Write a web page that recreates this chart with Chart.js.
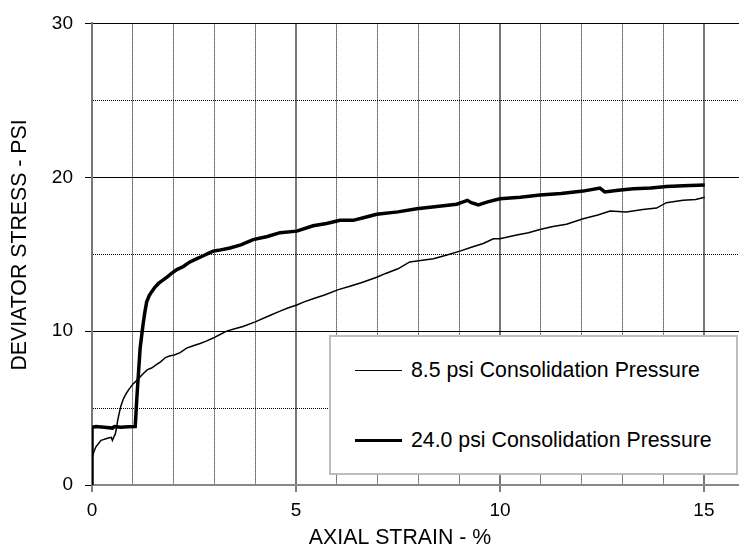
<!DOCTYPE html>
<html lang="en">
<head>
  <meta charset="UTF-8">
  <meta name="viewport" content="width=device-width, initial-scale=1.0">
  <title>Deviator stress vs axial strain</title>
  <script src="https://cdn.jsdelivr.net/npm/chart.js"></script>
  <style>
    body {
      margin: 0;
      background: #fff;
      overflow: hidden;
    }
    #wrap {
      position: relative;
      width: 739px;
      height: 548px;
    }
    #legend {
      position: absolute;
      left: 329px;
      top: 335px;
      width: 405px;
      height: 136px;
      border: 2px solid #bdbdbd;
      background: #fff;
      font-family: 'Liberation Sans', Arial, sans-serif;
      font-size: 21.3px;
      color: #000;
    }
    .row {
      position: absolute;
      left: 24px;
      height: 26px;
      display: flex;
      align-items: center;
      white-space: nowrap;
    }
    .swatch {
      width: 47px;
      margin-right: 9px;
      border-top-style: solid;
      border-top-color: #000;
    }
  </style>
</head>
<body>
  <div id="wrap">
    <canvas id="stressChart" width="739" height="548"></canvas>
    <!-- legend box, filled from the dataset labels -->
    <div id="legend"></div>
  </div>

<script>
  // 8.5 psi test
  const strainLow = [0, 0, 0.05, 0.1, 0.16, 0.22, 0.28, 0.34, 0.4, 0.47, 0.5, 0.53, 0.57, 0.6, 0.63, 0.67,
    0.71, 0.77, 0.83, 0.9, 1.0, 1.08, 1.16, 1.26, 1.36, 1.46, 1.57, 1.68, 1.81, 1.92, 2.02, 2.16, 2.32,
    2.48, 2.65, 2.8, 2.97, 3.15, 3.3, 3.5, 3.7, 4.0, 4.3, 4.61, 4.8, 5.02, 5.2, 5.42, 5.7, 6.04, 6.3, 6.6,
    6.98, 7.2, 7.5, 7.79, 8.1, 8.37, 8.7, 9.02, 9.3, 9.59, 9.84, 10.0, 10.41, 10.7, 10.98, 11.3, 11.63,
    12.04, 12.4, 12.7, 13.1, 13.5, 13.84, 14.08, 14.49, 14.8, 15.02];
  const stressLow = [0, 1.8, 2.2, 2.5, 2.7, 2.9, 2.95, 3.0, 3.05, 3.1, 2.9, 3.1, 3.3, 3.7, 4.2, 4.7,
    5.15, 5.6, 5.9, 6.2, 6.55, 6.75, 6.97, 7.25, 7.5, 7.6, 7.8, 8.0, 8.3, 8.4, 8.45, 8.6, 8.9,
    9.05, 9.2, 9.35, 9.55, 9.8, 10.0, 10.15, 10.3, 10.6, 10.95, 11.3, 11.5, 11.7, 11.9, 12.1, 12.35, 12.7, 12.9, 13.15,
    13.5, 13.75, 14.05, 14.5, 14.6, 14.7, 14.95, 15.2, 15.45, 15.7, 16.0, 16.0, 16.25, 16.4, 16.6, 16.8, 16.95,
    17.3, 17.55, 17.8, 17.75, 17.9, 18.0, 18.35, 18.5, 18.55, 18.7];

  // 24.0 psi test
  const strainHigh = [0, 0, 0.1, 0.3, 0.5, 0.55, 0.7, 0.9, 1.06, 1.1, 1.14, 1.18, 1.22, 1.26, 1.3, 1.34,
    1.4, 1.46, 1.54, 1.63, 1.73, 1.83, 1.95, 2.08, 2.24, 2.4, 2.56, 2.73, 2.85, 2.97, 3.1, 3.38, 3.65,
    3.95, 4.3, 4.61, 5.02, 5.42, 5.75, 6.08, 6.4, 6.7, 6.98, 7.5, 7.96, 8.45, 8.94, 9.1, 9.2, 9.3, 9.47,
    9.7, 10.0, 10.5, 10.98, 11.5, 12.04, 12.45, 12.57, 12.9, 13.27, 13.7, 14.08, 14.5, 15.02];
  const stressHigh = [0, 3.75, 3.8, 3.75, 3.7, 3.8, 3.75, 3.78, 3.8, 5.7, 7.3, 8.9, 9.77, 10.6, 11.3, 11.9,
    12.3, 12.55, 12.85, 13.1, 13.3, 13.5, 13.75, 14.0, 14.2, 14.5, 14.7, 14.9, 15.05, 15.2, 15.25, 15.4, 15.6,
    15.95, 16.15, 16.4, 16.5, 16.85, 17.0, 17.2, 17.2, 17.4, 17.6, 17.75, 17.95, 18.1, 18.25, 18.4, 18.5, 18.35, 18.2,
    18.4, 18.6, 18.7, 18.85, 18.95, 19.1, 19.3, 19.05, 19.15, 19.25, 19.3, 19.4, 19.45, 19.5];

  const seriesNames = ['8.5 psi Consolidation Pressure', '24.0 psi Consolidation Pressure'];
  const seriesWidths = [1.5, 3.5];
  const xTickLabels = [0, 5, 10, 15];
  const yTickLabels = [0, 10, 20, 30];
  const xTitle = 'AXIAL STRAIN - %';
  const yTitle = 'DEVIATOR STRESS - PSI';

  const FONT = "'Liberation Sans', Arial, sans-serif";
  const toPoints = (xs, ys) => xs.map((x, i) => ({ x: x, y: ys[i] }));
  const isMajorX = c => c.tick && xTickLabels.includes(c.tick.value);
  const isMajorY = c => c.tick && yTickLabels.includes(c.tick.value);

  // axis titles sit a little off the plot centre, so they are drawn here
  const axisTitles = {
    id: 'axisTitles',
    afterDraw(chart) {
      const { ctx, scales } = chart;
      ctx.save();
      ctx.fillStyle = '#000';
      ctx.font = '21.3px ' + FONT;
      ctx.textAlign = 'center';
      ctx.textBaseline = 'middle';
      ctx.fillText(xTitle, scales.x.getPixelForValue(7.55), 538);
      ctx.translate(20, scales.y.getPixelForValue(15.6));
      ctx.rotate(-Math.PI / 2);
      ctx.fillText(yTitle, 0, 0);
      ctx.restore();
    }
  };

  const ctx = document.getElementById('stressChart').getContext('2d');
  const chart = new Chart(ctx, {
    type: 'line',
    data: {
      datasets: [
        {
          label: seriesNames[0],
          data: toPoints(strainLow, stressLow),
          borderColor: '#000',
          borderWidth: seriesWidths[0],
          pointRadius: 0,
          tension: 0
        },
        {
          label: seriesNames[1],
          data: toPoints(strainHigh, stressHigh),
          borderColor: '#000',
          borderWidth: seriesWidths[1],
          pointRadius: 0,
          tension: 0
        }
      ]
    },
    options: {
      responsive: false,
      animation: false,
      layout: { padding: { top: 19, right: 0, bottom: 0, left: 0 } },
      plugins: {
        legend: { display: false },
        tooltip: { enabled: false }
      },
      scales: {
        x: {
          type: 'linear',
          min: 0,
          max: 15.86,
          afterFit: s => { s.height = 63; },
          ticks: {
            stepSize: 1,
            includeBounds: false,
            autoSkip: false,
            maxRotation: 0,
            padding: 7,
            color: '#000',
            font: { family: FONT, size: 19 },
            callback: v => xTickLabels.includes(v) ? String(v) : ''
          },
          grid: {
            color: c => isMajorX(c) ? '#777' : '#000',
            lineWidth: c => isMajorX(c) ? 2 : 1,
            tickLength: 7,
            tickWidth: 1.5,
            tickColor: c => isMajorX(c) ? '#555' : 'rgba(0,0,0,0)'
          },
          border: {
            color: '#888',
            width: 2,
            dash: c => (c.tick && !isMajorX(c)) ? [1, 1] : []
          }
        },
        y: {
          min: 0,
          max: 30,
          afterFit: s => { s.width = 92; },
          ticks: {
            stepSize: 5,
            padding: 12,
            color: '#000',
            font: { family: FONT, size: 19 },
            callback: v => yTickLabels.includes(v) ? String(v) : ''
          },
          grid: {
            color: '#000',
            lineWidth: 1,
            tickLength: 7,
            tickColor: c => isMajorY(c) ? '#000' : 'rgba(0,0,0,0)'
          },
          border: {
            color: '#777',
            width: 2,
            dash: c => (c.tick && !isMajorY(c)) ? [1, 1] : []
          }
        }
      }
    },
    plugins: [axisTitles]
  });

  // legend rows built from the datasets
  const legend = document.getElementById('legend');
  const rowTops = [20, 90];
  chart.data.datasets.forEach((ds, i) => {
    const row = document.createElement('div');
    row.className = 'row';
    row.style.top = rowTops[i] + 'px';
    const swatch = document.createElement('span');
    swatch.className = 'swatch';
    swatch.style.borderTopWidth = (i === 0 ? 1.5 : 3.5) + 'px';
    const text = document.createElement('span');
    text.textContent = ds.label;
    row.appendChild(swatch);
    row.appendChild(text);
    legend.appendChild(row);
  });
</script>
</body>
</html>
